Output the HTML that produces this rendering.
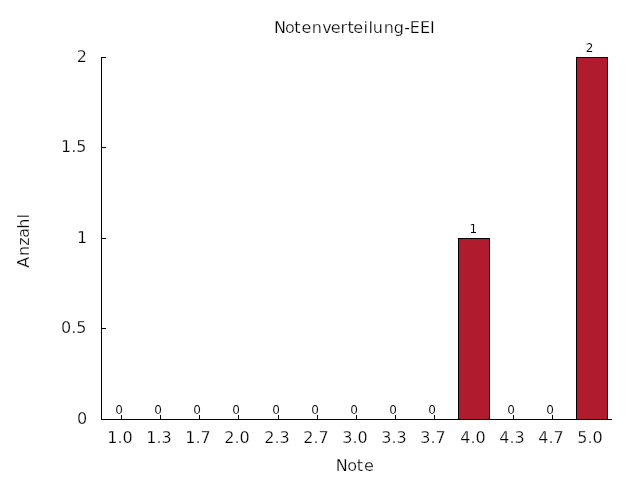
<!DOCTYPE html>
<html lang="de">
<head>
<meta charset="utf-8">
<title>Notenverteilung-EEI</title>
<style>
html,body{margin:0;padding:0;background:#fff;}
body{width:640px;height:480px;overflow:hidden;}
svg{display:block;}
text{font-family:"DejaVu Sans","Liberation Sans",sans-serif;fill:#000;stroke:#fff;stroke-width:0.25px;}
.t{font-size:16px;}
.s{font-size:12px;stroke-width:0.1px;}
.ln{fill:#000;shape-rendering:crispEdges;}
</style>
</head>
<body>
<svg width="640" height="480" viewBox="0 0 640 480">
<rect x="0" y="0" width="640" height="480" fill="#ffffff"/>
<text class="t" x="274 285 294.25 301.5 311.75 322.25 330.75 340.5 347.5 353.25 363.5 368.5 372.75 383.75 393.75 404.25 409.75 420 430" y="33">Notenverteilung-EEI</text>
<text class="t" transform="translate(29,0) rotate(-90)" x="-267.75 -256 -245.75 -237.75 -228.75 -218.5" y="0">Anzahl</text>
<text class="t" x="335.75 347.25 356.75 364" y="471">Note</text>
<rect class="ln" x="101" y="57" width="1" height="363"/>
<rect class="ln" x="101" y="419" width="511" height="1"/>
<rect class="ln" x="101" y="419" width="5" height="1"/>
<text class="t" x="87.25" y="424" text-anchor="end">0</text>
<rect class="ln" x="101" y="328" width="5" height="1"/>
<text class="t" x="86.5" y="333" text-anchor="end">0.5</text>
<rect class="ln" x="101" y="238" width="5" height="1"/>
<text class="t" x="87.25" y="243" text-anchor="end">1</text>
<rect class="ln" x="101" y="147" width="5" height="1"/>
<text class="t" x="86.5" y="152" text-anchor="end">1.5</text>
<rect class="ln" x="101" y="57" width="5" height="1"/>
<text class="t" x="87" y="62" text-anchor="end">2</text>
<rect class="ln" x="121" y="415" width="1" height="5"/>
<text class="s" x="119" y="414" text-anchor="middle">0</text>
<text class="t" x="120" y="442.5" text-anchor="middle">1.0</text>
<rect class="ln" x="160" y="415" width="1" height="5"/>
<text class="s" x="158" y="414" text-anchor="middle">0</text>
<text class="t" x="159" y="442.5" text-anchor="middle">1.3</text>
<rect class="ln" x="199" y="415" width="1" height="5"/>
<text class="s" x="197" y="414" text-anchor="middle">0</text>
<text class="t" x="198" y="442.5" text-anchor="middle">1.7</text>
<rect class="ln" x="238" y="415" width="1" height="5"/>
<text class="s" x="236" y="414" text-anchor="middle">0</text>
<text class="t" x="237" y="442.5" text-anchor="middle">2.0</text>
<rect class="ln" x="278" y="415" width="1" height="5"/>
<text class="s" x="276" y="414" text-anchor="middle">0</text>
<text class="t" x="277" y="442.5" text-anchor="middle">2.3</text>
<rect class="ln" x="317" y="415" width="1" height="5"/>
<text class="s" x="315" y="414" text-anchor="middle">0</text>
<text class="t" x="316" y="442.5" text-anchor="middle">2.7</text>
<rect class="ln" x="356" y="415" width="1" height="5"/>
<text class="s" x="354" y="414" text-anchor="middle">0</text>
<text class="t" x="355" y="442.5" text-anchor="middle">3.0</text>
<rect class="ln" x="395" y="415" width="1" height="5"/>
<text class="s" x="393" y="414" text-anchor="middle">0</text>
<text class="t" x="394" y="442.5" text-anchor="middle">3.3</text>
<rect class="ln" x="434" y="415" width="1" height="5"/>
<text class="s" x="432" y="414" text-anchor="middle">0</text>
<text class="t" x="433" y="442.5" text-anchor="middle">3.7</text>
<rect x="458" y="238" width="32" height="182" fill="#000" shape-rendering="crispEdges"/>
<rect x="459" y="239" width="30" height="180" fill="#b01c2e" shape-rendering="crispEdges"/>
<text class="s" x="473.25" y="233" text-anchor="middle">1</text>
<text class="t" x="473" y="442.5" text-anchor="middle">4.0</text>
<rect class="ln" x="513" y="415" width="1" height="5"/>
<text class="s" x="511" y="414" text-anchor="middle">0</text>
<text class="t" x="512" y="442.5" text-anchor="middle">4.3</text>
<rect class="ln" x="552" y="415" width="1" height="5"/>
<text class="s" x="550" y="414" text-anchor="middle">0</text>
<text class="t" x="551" y="442.5" text-anchor="middle">4.7</text>
<rect x="576" y="57" width="32" height="363" fill="#000" shape-rendering="crispEdges"/>
<rect x="577" y="58" width="30" height="361" fill="#b01c2e" shape-rendering="crispEdges"/>
<text class="s" x="589.5" y="52" text-anchor="middle">2</text>
<text class="t" x="590" y="442.5" text-anchor="middle">5.0</text>
</svg>
</body>
</html>
